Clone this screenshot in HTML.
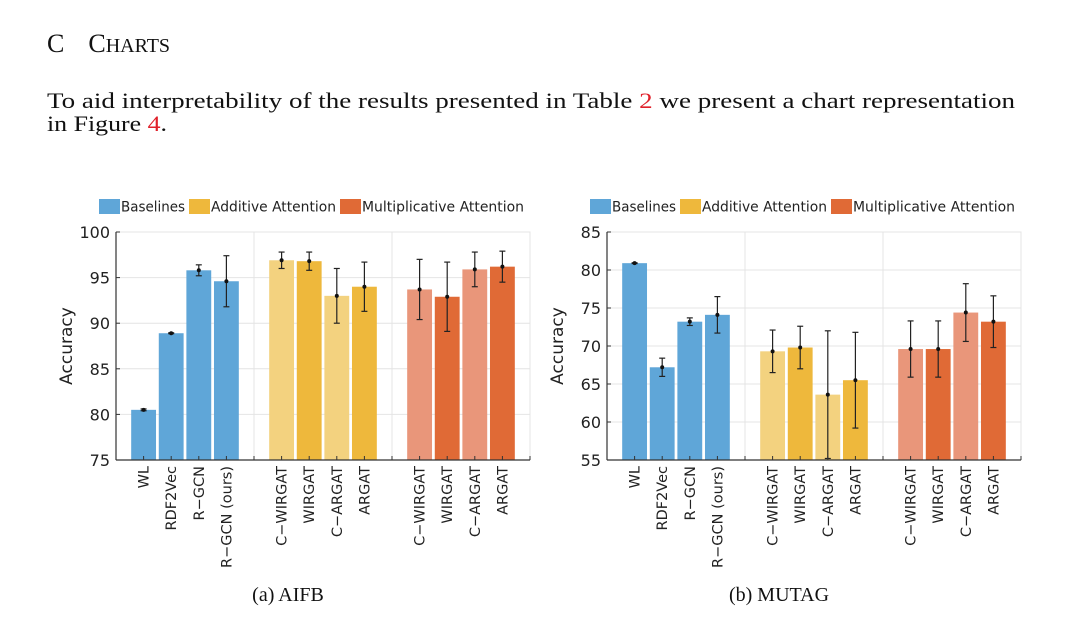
<!DOCTYPE html>
<html><head><meta charset="utf-8">
<style>
html,body{margin:0;padding:0;background:#fff;width:1080px;height:644px;overflow:hidden}
svg{display:block}
.serif{font-family:"Liberation Serif",serif;fill:#111}
.sans{font-family:"DejaVu Sans","Liberation Sans",sans-serif;fill:#222}
</style></head>
<body>
<svg id="page" width="1080" height="644" viewBox="0 0 1080 644">
  <text class="serif" x="47" y="52" font-size="26">C<tspan dx="24">C</tspan><tspan font-size="20">HARTS</tspan></text>
  <text class="serif" x="47" y="108" font-size="22" textLength="968" lengthAdjust="spacingAndGlyphs">To aid interpretability of the results presented in Table <tspan fill="#e0202a">2</tspan> we present a chart representation</text>
  <text class="serif" x="47" y="131" font-size="22" textLength="120" lengthAdjust="spacingAndGlyphs">in Figure <tspan fill="#e0202a">4</tspan>.</text>
  <g id="chartA"></g>
  <g id="chartB"></g>
  <text class="serif" x="288" y="601" font-size="20" text-anchor="middle">(a) AIFB</text>
  <text class="serif" x="779" y="601" font-size="20" text-anchor="middle">(b) MUTAG</text>
</svg>
<script>
const categories = ["WL","RDF2Vec","R\u2212GCN","R\u2212GCN (ours)","C\u2212WIRGAT","WIRGAT","C\u2212ARGAT","ARGAT","C\u2212WIRGAT","WIRGAT","C\u2212ARGAT","ARGAT"];
const groups = [0,0,0,0,1,1,1,1,2,2,2,2];
const aifbValues = [80.5,88.9,95.8,94.6,96.9,96.8,93.0,94.0,93.7,92.9,95.9,96.2];
const aifbErrors = [0.1,0.05,0.6,2.8,0.9,1.0,3.0,2.7,3.3,3.8,1.9,1.7];
const aifbTicks = [75,80,85,90,95,100];
const mutagValues = [80.9,67.2,73.2,74.1,69.3,69.8,63.6,65.5,69.6,69.6,74.4,73.2];
const mutagErrors = [0.05,1.2,0.5,2.4,2.8,2.8,8.4,6.3,3.7,3.7,3.8,3.4];
const mutagTicks = [55,60,65,70,75,80,85];
const legendLabels = ["Baselines","Additive Attention","Multiplicative Attention"];

const NS="http://www.w3.org/2000/svg";
function mk(parent,tag,attrs){const e=document.createElementNS(NS,tag);for(const k in attrs)e.setAttribute(k,attrs[k]);parent.appendChild(e);return e;}
const darkCol=["#5fa6d8","#eeb83c","#e06a36"];
const lightCol=["#5fa6d8","#f3d27f","#e9967a"];

function drawChart(g,x0,values,errors,ticks,prefix){
  const left=x0, right=x0+414, top=232, bottom=460;
  const ymin=ticks[0], ymax=ticks[ticks.length-1];
  const xs=i=>left+(i+1)*(right-left)/15;
  const ys=v=>bottom-(v-ymin)/(ymax-ymin)*(bottom-top);
  const slot=i=>i+Math.floor(i/4);
  ticks.forEach(t=>{
    const l=mk(g,'line',{x1:left,x2:right,y1:ys(t),y2:ys(t),stroke:'#e4e4e4','stroke-width':1});
    
    
    const tx=mk(g,'text',{x:left-6,y:ys(t)+6,'text-anchor':'end','font-size':16,class:'sans'});
    tx.textContent=t;
    
    
  });
  [4,9].forEach(s=>{
    const l=mk(g,'line',{x1:xs(s),x2:xs(s),y1:top,y2:bottom,stroke:'#e4e4e4','stroke-width':1});
    
    
  });
  mk(g,'rect',{x:left,y:top,width:right-left,height:bottom-top,fill:'none',stroke:'#e4e4e4'});
  const bw=(right-left)/15*0.9;
  values.forEach((v,i)=>{
    const s=slot(i), cx=xs(s), grp=groups[i];
    const col=(i%2===0)?lightCol[grp]:darkCol[grp];
    const r=mk(g,'rect',{x:cx-bw/2,y:ys(v),width:bw,height:bottom-ys(v),fill:col});
    
    
    const e=errors[i];
    const eg=mk(g,'g',{stroke:'#222','stroke-width':1.2});
    
    
    mk(eg,'line',{x1:cx,x2:cx,y1:ys(Math.min(v+e,ymax)),y2:ys(Math.max(v-e,ymin))});
    mk(eg,'line',{x1:cx-3,x2:cx+3,y1:ys(Math.min(v+e,ymax)),y2:ys(Math.min(v+e,ymax))});
    mk(eg,'line',{x1:cx-3,x2:cx+3,y1:ys(Math.max(v-e,ymin)),y2:ys(Math.max(v-e,ymin))});
    mk(g,'circle',{cx:cx,cy:ys(v),r:2,fill:'#111'});
    const t=mk(g,'text',{x:0,y:0,'text-anchor':'end','font-size':14.5,class:'sans',transform:`translate(${cx+5},466) rotate(-90)`});
    t.textContent=categories[i];
    
    
  });
  mk(g,'line',{x1:left,x2:left,y1:top,y2:bottom,stroke:'#333','stroke-width':1.2});
  mk(g,'line',{x1:left,x2:right,y1:bottom,y2:bottom,stroke:'#333','stroke-width':1.2});
  ticks.forEach(t=>mk(g,'line',{x1:left,x2:left+4,y1:ys(t),y2:ys(t),stroke:'#333'}));
  for(let s=0;s<=14;s++){mk(g,'line',{x1:xs(s),x2:xs(s),y1:bottom,y2:bottom-4,stroke:'#333'});}
  const yl=mk(g,'text',{x:0,y:0,'text-anchor':'middle','font-size':17,class:'sans',transform:`translate(${left-44},${(top+bottom)/2}) rotate(-90)`});
  yl.textContent='Accuracy';
  
  
  // legend: sequential layout with target text widths
  const textW=[64,125,162];
  let lx=left-17;
  legendLabels.forEach((lab,k)=>{
    const le=mk(g,'g',{});
    
    
    mk(le,'rect',{x:lx,y:199,width:21,height:15,fill:darkCol[k]});
    const t=mk(le,'text',{x:lx+22,y:211.5,'font-size':14,class:'sans',textLength:textW[k],lengthAdjust:'spacingAndGlyphs'});
    t.textContent=lab;
    lx+=22+textW[k]+4;
  });
}
drawChart(document.getElementById('chartA'),116,aifbValues,aifbErrors,aifbTicks,'aifb');
drawChart(document.getElementById('chartB'),607,mutagValues,mutagErrors,mutagTicks,'mutag');
</script>
</body></html>
